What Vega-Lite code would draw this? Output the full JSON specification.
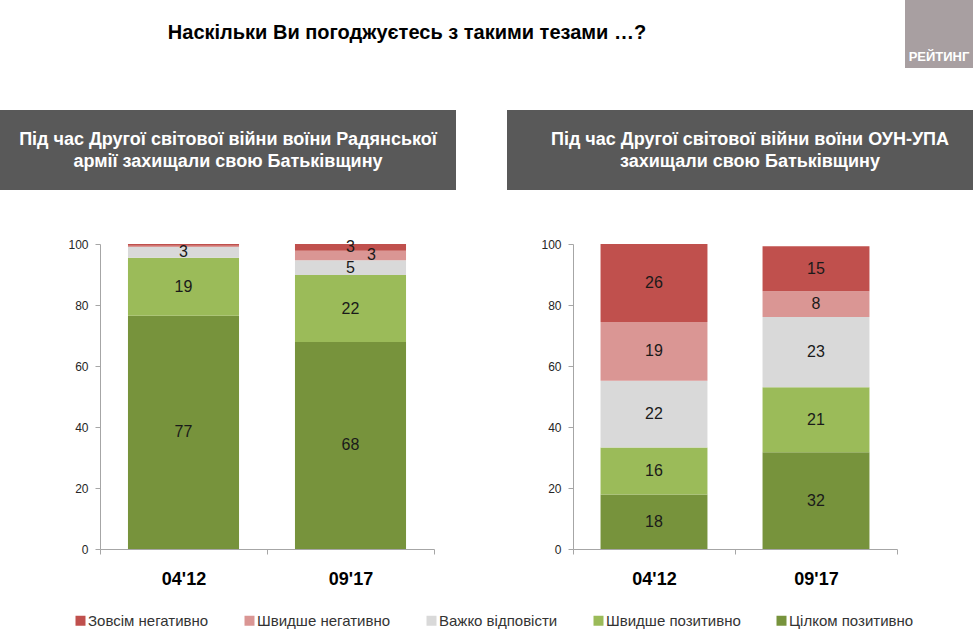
{
  "$schema": "https://vega.github.io/schema/vega-lite/v6.json",
  "padding": 0,
  "background": "white",
  "config": {"view": {"stroke": null}, "font": "Liberation Sans"},
  "datasets": {
    "left": [
      {"period": "04'12", "resp": "Цілком позитивно", "k": 1, "value": 76.5, "label": "77"},
      {"period": "04'12", "resp": "Швидше позитивно", "k": 2, "value": 19, "label": "19"},
      {"period": "04'12", "resp": "Важко відповісти", "k": 3, "value": 3.5, "label": "3"},
      {"period": "04'12", "resp": "Швидше негативно", "k": 4, "value": 0.4, "label": ""},
      {"period": "04'12", "resp": "Зовсім негативно", "k": 5, "value": 0.6, "label": ""},
      {"period": "09'17", "resp": "Цілком позитивно", "k": 1, "value": 67.9, "label": "68"},
      {"period": "09'17", "resp": "Швидше позитивно", "k": 2, "value": 21.9, "label": "22"},
      {"period": "09'17", "resp": "Важко відповісти", "k": 3, "value": 4.9, "label": "5"},
      {"period": "09'17", "resp": "Швидше негативно", "k": 4, "value": 3.1, "label": "3"},
      {"period": "09'17", "resp": "Зовсім негативно", "k": 5, "value": 2.2, "label": "3"}
    ],
    "right": [
      {"period": "04'12", "resp": "Цілком позитивно", "k": 1, "value": 17.9, "label": "18"},
      {"period": "04'12", "resp": "Швидше позитивно", "k": 2, "value": 15.4, "label": "16"},
      {"period": "04'12", "resp": "Важко відповісти", "k": 3, "value": 21.9, "label": "22"},
      {"period": "04'12", "resp": "Швидше негативно", "k": 4, "value": 19.2, "label": "19"},
      {"period": "04'12", "resp": "Зовсім негативно", "k": 5, "value": 25.6, "label": "26"},
      {"period": "09'17", "resp": "Цілком позитивно", "k": 1, "value": 31.7, "label": "32"},
      {"period": "09'17", "resp": "Швидше позитивно", "k": 2, "value": 21.3, "label": "21"},
      {"period": "09'17", "resp": "Важко відповісти", "k": 3, "value": 23.1, "label": "23"},
      {"period": "09'17", "resp": "Швидше негативно", "k": 4, "value": 8.4, "label": "8"},
      {"period": "09'17", "resp": "Зовсім негативно", "k": 5, "value": 14.8, "label": "15"}
    ]
  },
  "spacing": 42,
  "vconcat": [
    {
      "hconcat": [
        {
          "width": 814, "height": 68,
          "data": {"values": [{"t": "Наскільки Ви погоджуєтесь з такими тезами …?"}]},
          "mark": {"type": "text", "font": "Liberation Sans", "fontSize": 20, "fontWeight": "bold", "color": "#000000", "baseline": "middle", "align": "center", "dy": -1},
          "encoding": {"text": {"field": "t", "type": "nominal"}}
        },
        {
          "width": 68, "height": 68,
          "view": {"fill": "#a89fa1", "stroke": null},
          "data": {"values": [{"t": "РЕЙТИНГ"}]},
          "mark": {"type": "text", "font": "Liberation Sans", "fontSize": 13, "fontWeight": "bold", "color": "#ffffff", "baseline": "middle", "align": "center", "dy": 23},
          "encoding": {"text": {"field": "t", "type": "nominal"}}
        }
      ],
      "spacing": 91,
      "bounds": "flush"
    },
    {
      "spacing": 46,
      "vconcat": [
        {
          "hconcat": [
            {
              "width": 456, "height": 80,
              "view": {"fill": "#595959", "stroke": null},
              "data": {"values": [{"t": "Під час Другої світової війни воїни Радянської\nармії захищали свою Батьківщину"}]},
              "mark": {"type": "text", "lineBreak": "\n", "lineHeight": 22, "font": "Liberation Sans", "fontSize": 18, "fontWeight": "bold", "color": "#ffffff", "baseline": "middle", "align": "center", "dy": -10},
              "encoding": {"text": {"field": "t", "type": "nominal"}}
            },
            {
              "width": 466, "height": 80,
              "view": {"fill": "#595959", "stroke": null},
              "data": {"values": [{"t": "Під час Другої світової війни воїни ОУН-УПА\nзахищали свою Батьківщину"}]},
              "mark": {"type": "text", "lineBreak": "\n", "lineHeight": 22, "font": "Liberation Sans", "fontSize": 18, "fontWeight": "bold", "color": "#ffffff", "baseline": "middle", "align": "center", "dx": 10, "dy": -10},
              "encoding": {"text": {"field": "t", "type": "nominal"}}
            }
          ],
          "spacing": 51,
          "bounds": "flush"
        },
        {
          "hconcat": [
            {
              "width": 100, "height": 305,
              "data": {"values": []},
              "mark": {"type": "rect"},
              "encoding": {}
            },
            {
              "width": 334, "height": 305,
              "data": {"name": "left"},
              "layer": [
                {
                  "mark": {"type": "bar", "width": {"band": 0.665}},
                  "encoding": {
                    "x": {"field": "period", "type": "nominal", "sort": ["04'12", "09'17"], "scale": {"paddingInner": 0, "paddingOuter": 0},
                      "axis": {"title": null, "labelAngle": 0, "labelFont": "Liberation Sans", "labelFontSize": 18, "labelFontWeight": "bold", "labelColor": "#000000", "domainColor": "#a6a6a6", "tickColor": "#a6a6a6", "tickSize": 5, "tickBand": "extent", "labelPadding": 16}},
                    "y": {"field": "value", "type": "quantitative", "stack": "zero", "scale": {"domain": [0, 100], "nice": false},
                      "axis": {"title": null, "values": [0, 20, 40, 60, 80, 100], "grid": false, "domainColor": "#a6a6a6", "tickColor": "#a6a6a6", "tickSize": 5, "labelFont": "Liberation Sans", "labelFontSize": 12, "labelColor": "#262626", "labelPadding": 7}},
                    "order": {"field": "k", "type": "quantitative"},
                    "color": {"field": "resp", "type": "nominal",
                      "scale": {"domain": ["Зовсім негативно", "Швидше негативно", "Важко відповісти", "Швидше позитивно", "Цілком позитивно"], "range": ["#c0504d", "#da9694", "#d9d9d9", "#9bbb59", "#77933c"]},
                      "legend": {"orient": "none", "legendX": 73, "legendY": 613, "direction": "horizontal", "title": null, "symbolType": "square", "symbolSize": 100, "symbolStrokeWidth": 0, "labelFont": "Liberation Sans", "labelFontSize": 15, "labelColor": "#333333", "columnPadding": 33, "labelOffset": 0}}
                  }
                },
                {
                  "mark": {"type": "text", "font": "Liberation Sans", "fontSize": 16, "color": "#1a1a1a", "baseline": "middle", "align": "center",
                    "dx": {"expr": "datum.resp === 'Швидше негативно' && datum.value < 4 ? 21 : 0"}},
                  "encoding": {
                    "x": {"field": "period", "type": "nominal", "sort": ["04'12", "09'17"]},
                    "y": {"field": "value", "type": "quantitative", "stack": "zero", "bandPosition": 0.5},
                    "order": {"field": "k", "type": "quantitative"},
                    "detail": {"field": "resp", "type": "nominal"},
                    "text": {"field": "label", "type": "nominal"}
                  }
                }
              ]
            },
            {
              "width": 139, "height": 305,
              "data": {"values": []},
              "mark": {"type": "rect"},
              "encoding": {}
            },
            {
              "width": 324, "height": 305,
              "data": {"name": "right"},
              "layer": [
                {
                  "mark": {"type": "bar", "width": {"band": 0.66}},
                  "encoding": {
                    "x": {"field": "period", "type": "nominal", "sort": ["04'12", "09'17"], "scale": {"paddingInner": 0, "paddingOuter": 0},
                      "axis": {"title": null, "labelAngle": 0, "labelFont": "Liberation Sans", "labelFontSize": 18, "labelFontWeight": "bold", "labelColor": "#000000", "domainColor": "#a6a6a6", "tickColor": "#a6a6a6", "tickSize": 5, "tickBand": "extent", "labelPadding": 16}},
                    "y": {"field": "value", "type": "quantitative", "stack": "zero", "scale": {"domain": [0, 100], "nice": false},
                      "axis": {"title": null, "values": [0, 20, 40, 60, 80, 100], "grid": false, "domainColor": "#a6a6a6", "tickColor": "#a6a6a6", "tickSize": 5, "labelFont": "Liberation Sans", "labelFontSize": 12, "labelColor": "#262626", "labelPadding": 7}},
                    "order": {"field": "k", "type": "quantitative"},
                    "color": {"field": "resp", "type": "nominal",
                      "scale": {"domain": ["Зовсім негативно", "Швидше негативно", "Важко відповісти", "Швидше позитивно", "Цілком позитивно"], "range": ["#c0504d", "#da9694", "#d9d9d9", "#9bbb59", "#77933c"]},
                      "legend": {"orient": "none", "legendX": 73, "legendY": 613, "direction": "horizontal", "title": null, "symbolType": "square", "symbolSize": 100, "symbolStrokeWidth": 0, "labelFont": "Liberation Sans", "labelFontSize": 15, "labelColor": "#333333", "columnPadding": 33, "labelOffset": 0}}
                  }
                },
                {
                  "mark": {"type": "text", "font": "Liberation Sans", "fontSize": 16, "color": "#1a1a1a", "baseline": "middle", "align": "center"},
                  "encoding": {
                    "x": {"field": "period", "type": "nominal", "sort": ["04'12", "09'17"]},
                    "y": {"field": "value", "type": "quantitative", "stack": "zero", "bandPosition": 0.5},
                    "order": {"field": "k", "type": "quantitative"},
                    "detail": {"field": "resp", "type": "nominal"},
                    "text": {"field": "label", "type": "nominal"}
                  }
                }
              ]
            }
          ],
          "spacing": 0,
          "bounds": "flush"
        }
      ]
    }
  ]
}
